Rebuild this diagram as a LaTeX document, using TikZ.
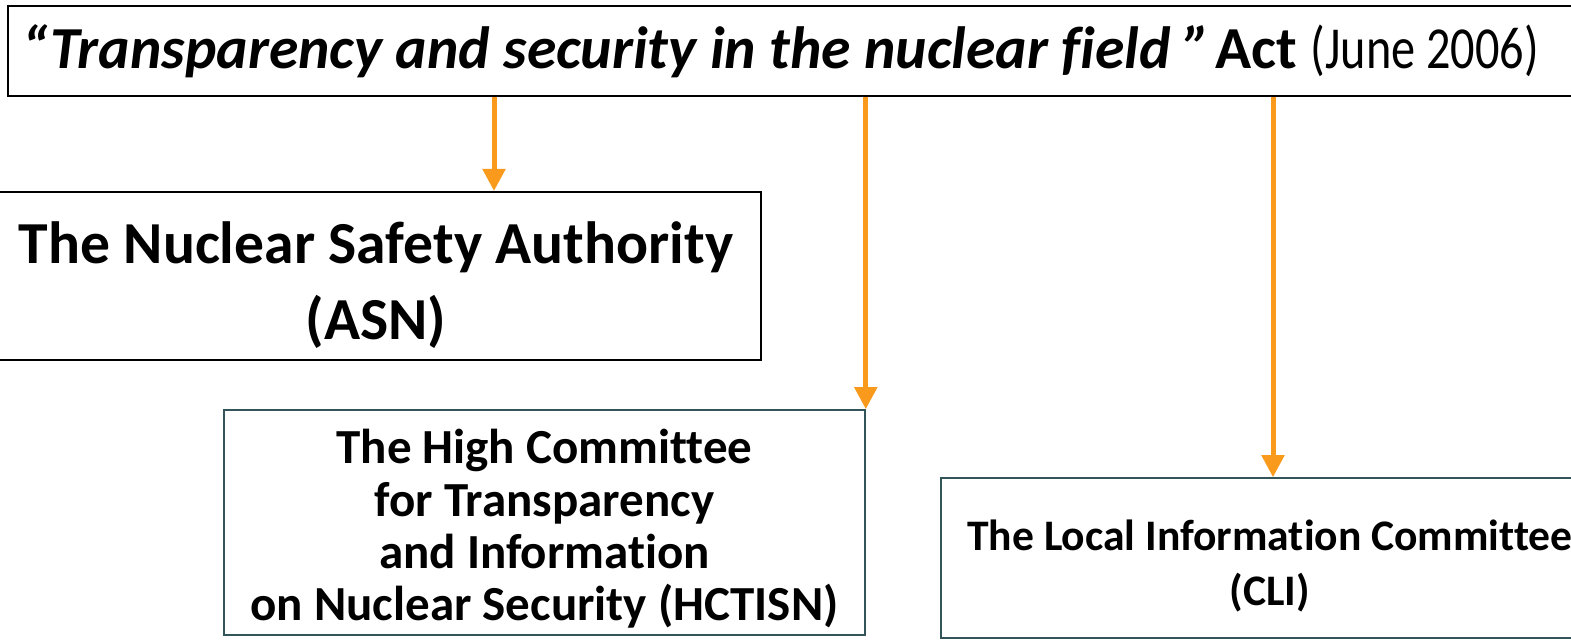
\documentclass[tikz,border=0pt]{standalone}
\usepackage{graphicx}
\usepackage{fontspec}
\setmainfont{Carlito}[Ligatures={NoCommon}]
\usetikzlibrary{arrows.meta}

\begin{document}
\begin{tikzpicture}[x=0.5pt,y=-0.5pt,
        caja/.style={draw=black,line width=1pt,inner sep=0pt,align=center,font=\bfseries},
        cajaverde/.style={caja,draw=gborde,line width=0.8pt},
        flecha/.style={draw=naranja,line width=2.5pt,-{Triangle[length=11pt,width=11pt]}}]
        %colores
        \definecolor{naranja}{HTML}{FA9A1C}
        \definecolor{gborde}{HTML}{33555A}

        % marco
        \useasboundingbox (0,0) rectangle (1571,640);
        \clip (0,0) rectangle (1571,640);

        % Ley (cabecera)
        \node[caja,anchor=north west,minimum width=791.5pt,minimum height=45pt] (ley) at (7,5) {};
        \node[anchor=west,inner sep=0pt,font=\fontsize{29.8pt}{34pt}\selectfont] (leytxt) at (22,51)
            {\textbf{\textit{“Transparency and security in the nuclear field ”}}\hspace{-4pt} \textbf{Act} \scalebox{0.81}[1]{(June 2006)}};

        % organismos
        \node[caja,minimum width=385pt,minimum height=84pt] (asn) at (376,276) {};
        \node at (376,285) [align=center,font=\bfseries\fontsize{29.8pt}{38pt}\selectfont] (asntxt) {The Nuclear Safety Authority\\(ASN)};
        \node[cajaverde,minimum width=320.5pt,minimum height=112.5pt] (hctisn) at (544.5,522.5) {};
        \node at (544.5,529) [align=center,font=\bfseries\fontsize{24.5pt}{26.2pt}\selectfont] (hctisntxt) {The High Committee\\for Transparency\\and Information\\on Nuclear Security (HCTISN)};
        \node[cajaverde,minimum width=329pt,minimum height=80pt] (cli) at (1270,558) {};
        \node at (1270,566) [align=center,font=\bfseries\fontsize{21.8pt}{27.5pt}\selectfont] (clitxt) {The Local Information Committee\\(CLI)};

        % flechas
        \coordinate (f1) at (494,0);
        \coordinate (f3) at (1273,0);
        \draw[flecha] (ley.south -| f1) -- (asn.north -| f1);
        \draw[flecha] (ley.south -| hctisn.north east) -- (hctisn.north east);
        \draw[flecha] (ley.south -| f3) -- (cli.north -| f3);
\end{tikzpicture}
\end{document}
